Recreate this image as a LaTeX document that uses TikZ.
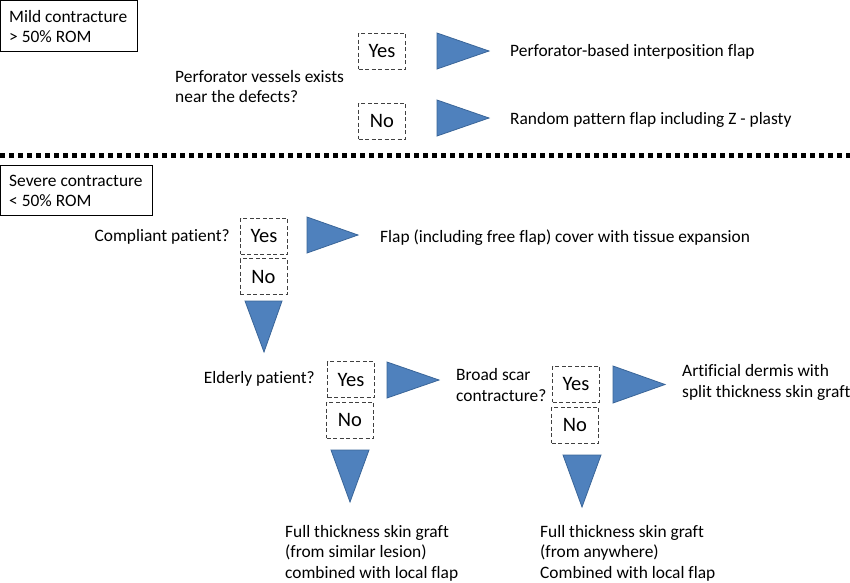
\documentclass[tikz,border=0pt]{standalone}
\usepackage{fontspec}
\setmainfont{Carlito}[Ligatures=NoCommon]
\definecolor{triblue}{HTML}{4F81BD}
\definecolor{triedge}{HTML}{3A6598}
\definecolor{dashgray}{HTML}{404040}
\begin{document}
\begin{tikzpicture}[x=1pt,y=-1pt,
  every node/.style={inner sep=0pt,font=\fontsize{17.4}{20.6}\selectfont},
  catbox/.style={draw=black,line width=1pt},
  yn/.style={draw=dashgray,line width=0.9pt,dash pattern=on 4pt off 2.5pt,minimum width=47pt,minimum height=36pt,font=\fontsize{20.5}{24}\selectfont},
  txt/.style={align=left,anchor=west},
  tri/.style={fill=triblue,draw=triedge,line width=0.8pt,line join=miter},
  sep/.style={line width=5pt,dash pattern=on 5pt off 4pt}]
\useasboundingbox (0,0) rectangle (850,582);
% category boxes
\draw[catbox] (0.5,0.5) rectangle (137,51);
\node[txt] (mild) at (9,26.5) {Mild contracture\\> 50\% ROM};
\draw[catbox] (0.5,165) rectangle (152,215.5);
\node[txt] (severe) at (9,191) {Severe contracture\\< 50\% ROM};
% separator
\coordinate (sl) at (0,155);
\coordinate (sr) at (850,155);
\draw[sep] (sl) -- (sr);
% mild section
\node[txt] (perf) at (175,86.5) {Perforator vessels exists\\near the defects?};
\node[yn] (y1) at (382,51) {Yes};
\node[yn] (n1) at (382,121) {No};
\draw[tri] (437,33) -- (489,51) -- (437,69) -- cycle;
\draw[tri] (437,100) -- (489,118) -- (437,136) -- cycle;
\node[txt] (r1) at (510,52) {Perforator-based interposition flap};
\node[txt] (r2) at (510,120) {Random pattern flap including Z - plasty};
% severe section
\node[anchor=east] (comp) at (230,237) {Compliant patient?};
\node[yn] (y2) at (264,236) {Yes};
\node[yn] (n2) at (263.5,276.5) {No};
\draw[tri] (307,217) -- (358,235) -- (307,253) -- cycle;
\node[txt] (r3) at (380,238) {Flap (including free flap) cover with tissue expansion};
\draw[tri] (245,301) -- (282,301) -- (264,352) -- cycle;
\node[anchor=east] (eld) at (315,379) {Elderly patient?};
\node[yn] (y3) at (351,379.5) {Yes};
\node[yn] (n3) at (350,420) {No};
\draw[tri] (387,362) -- (439,380) -- (387,398) -- cycle;
\draw[tri] (331,450) -- (369,450) -- (350,502) -- cycle;
\node[txt] (r4) at (285,553) {Full thickness skin graft\\(from similar lesion)\\combined with local flap};
\node[txt] (broad) at (456,385) {Broad scar\\contracture?};
\node[yn] (y4) at (576,384) {Yes};
\node[yn] (n4) at (575,425) {No};
\draw[tri] (613,366) -- (665,384.5) -- (613,403) -- cycle;
\node[txt] (r5) at (682,382.5) {Artificial dermis with\\split thickness skin graft};
\draw[tri] (563,455) -- (601,455) -- (582,507) -- cycle;
\node[txt] (r6) at (540,553) {Full thickness skin graft\\(from anywhere)\\Combined with local flap};
\end{tikzpicture}
\end{document}
